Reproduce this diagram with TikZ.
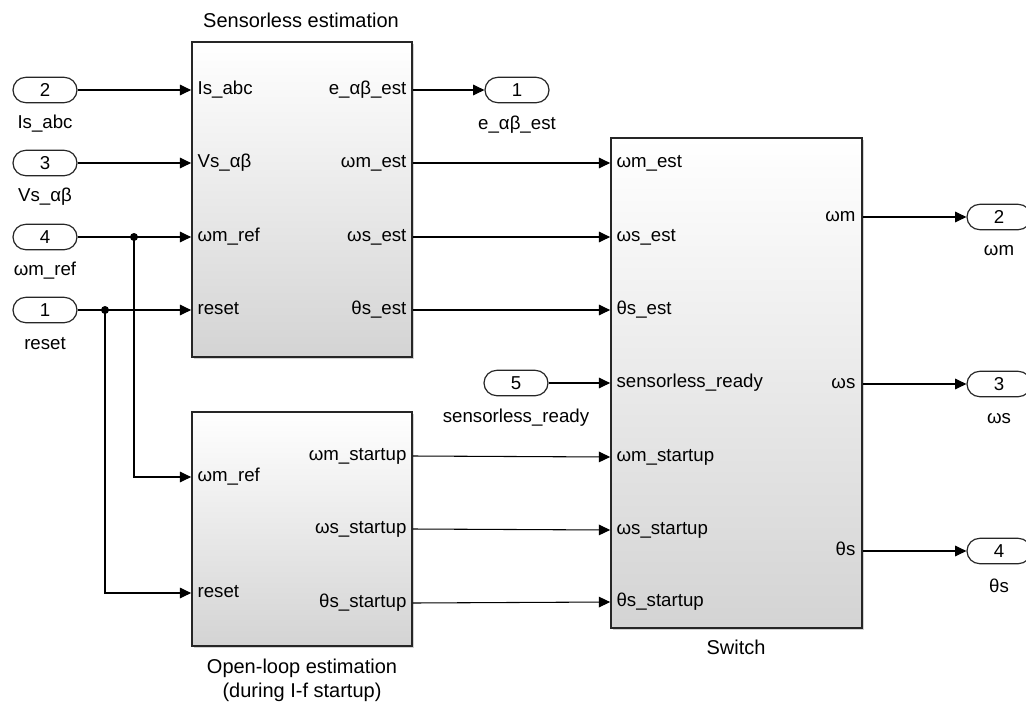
\documentclass[tikz,border=0pt]{standalone}
\usepackage{fontspec}
\setmainfont{Liberation Sans}
\usepackage{tikz}
\usetikzlibrary{arrows.meta, positioning, shapes.misc, shadows}

\begin{document}
\begin{tikzpicture}[
  x=0.75pt, y=-0.75pt,
  font=\fontsize{14}{16.5}\selectfont,
  >={Triangle[length=8.5pt, width=8pt]},
  block/.style={draw=black!85, line width=1.3pt, shading=axis, top color=white,
                middle color=black!4, bottom color=black!17,
                drop shadow={shadow xshift=1.5pt, shadow yshift=-1.5pt, fill=black!35},
                minimum width=#1, inner sep=0pt},
  port/.style={rounded rectangle, draw=black!85, line width=0.9pt, fill=white,
               minimum width=48pt, minimum height=19pt, inner sep=0pt},
  pin/.style={inner sep=1pt, text height=1.6ex, text depth=.35ex},
  title/.style={font=\fontsize{15}{18}\selectfont, align=center},
  wire/.style={line width=0.8pt},
  dot/.style={circle, fill=black, inner sep=0pt, minimum size=6pt},
]
  \useasboundingbox (0,0) rectangle (1026,704);

  % --- subsystem blocks --------------------------------------------
  \node[block=165pt, minimum height=236.25pt] (sens) at (302,199.5) {};
  \node[block=165pt, minimum height=175.5pt] (open) at (302,529) {};
  \node[block=188.25pt, minimum height=367.5pt] (sw) at (736.5,383) {};

  \node[title] (tsens) at (301,20) {Sensorless estimation};
  \node[title] (topen) at (302,680) {Open-loop estimation\\(during I-f startup)};
  \node[title] (tsw) at (736,647) {Switch};

  % --- port labels --------------------------------------------------
  \node[pin, anchor=west] (s-is) at (196,90) {Is\_abc};
  \node[pin, anchor=west] (s-vs) at (196,163) {Vs\_αβ};
  \node[pin, anchor=west] (s-wref) at (196,237) {ωm\_ref};
  \node[pin, anchor=west] (s-rst) at (196,310) {reset};
  \node[pin, anchor=east] (s-e) at (408,90) {e\_αβ\_est};
  \node[pin, anchor=east] (s-wm) at (408,163) {ωm\_est};
  \node[pin, anchor=east] (s-ws) at (408,237) {ωs\_est};
  \node[pin, anchor=east] (s-th) at (408,310) {θs\_est};

  \node[pin, anchor=west] (o-wref) at (196,477) {ωm\_ref};
  \node[pin, anchor=west] (o-rst) at (196,593) {reset};
  \node[pin, anchor=east] (o-wm) at (408,456) {ωm\_startup};
  \node[pin, anchor=east] (o-ws) at (408,529) {ωs\_startup};
  \node[pin, anchor=east] (o-th) at (408,603) {θs\_startup};

  \node[pin, anchor=west] (w-wm) at (615,163) {ωm\_est};
  \node[pin, anchor=west] (w-ws) at (615,237) {ωs\_est};
  \node[pin, anchor=west] (w-th) at (615,310) {θs\_est};
  \node[pin, anchor=west] (w-rdy) at (615,383) {sensorless\_ready};
  \node[pin, anchor=west] (w-wm2) at (615,457) {ωm\_startup};
  \node[pin, anchor=west] (w-ws2) at (615,530) {ωs\_startup};
  \node[pin, anchor=west] (w-th2) at (615,602) {θs\_startup};
  \node[pin, anchor=east] (w-om) at (857,217) {ωm};
  \node[pin, anchor=east] (w-os) at (857,384) {ωs};
  \node[pin, anchor=east] (w-ot) at (857,551) {θs};

  % --- inports and outports -----------------------------------------
  \node[port] (in2) at (45,90) {2};
  \node[port] (in3) at (45,163) {3};
  \node[port] (in4) at (45,237) {4};
  \node[port] (in1) at (45,310) {1};
  \node[port] (in5) at (516,383) {5};
  \node[port] (out1) at (517,90) {1};
  \node[port] (out2) at (999,217) {2};
  \node[port] (out3) at (999,384) {3};
  \node[port] (out4) at (999,551) {4};

  \node (l-in2) at (45,124) {Is\_abc};
  \node (l-in3) at (45,197) {Vs\_αβ};
  \node (l-in4) at (45,271) {ωm\_ref};
  \node (l-in1) at (45,344) {reset};
  \node (l-in5) at (516,418) {sensorless\_ready};
  \node (l-out1) at (517,125) {e\_αβ\_est};
  \node (l-out2) at (999,251) {ωm};
  \node (l-out3) at (999,419) {ωs};
  \node (l-out4) at (999,586) {θs};

  % --- signal lines -------------------------------------------------
  \draw[wire, ->] (in2.east) -- (sens.west |- s-is);
  \draw[wire, ->] (in3.east) -- (sens.west |- s-vs);
  \draw[wire, ->] (in4.east) -- (sens.west |- s-wref);
  \draw[wire, ->] (in1.east) -- (sens.west |- s-rst);

  \node[dot] (j-wref) at (134,237) {};
  \node[dot] (j-rst) at (105,310) {};
  \draw[wire, ->] (j-wref.center) |- (open.west |- o-wref);
  \draw[wire, ->] (j-rst.center) |- (open.west |- o-rst);

  \draw[wire, ->] (sens.east |- s-e) -- (out1.west);
  \draw[wire, ->] (sens.east |- s-wm) -- (sw.west |- w-wm);
  \draw[wire, ->] (sens.east |- s-ws) -- (sw.west |- w-ws);
  \draw[wire, ->] (sens.east |- s-th) -- (sw.west |- w-th);
  \draw[wire, ->] (in5.east) -- (sw.west |- w-rdy);
  \draw[wire, ->] (open.east |- o-wm) -- (sw.west |- w-wm2);
  \draw[wire, ->] (open.east |- o-ws) -- (sw.west |- w-ws2);
  \draw[wire, ->] (open.east |- o-th) -- (sw.west |- w-th2);

  \draw[wire, ->] (sw.east |- w-om) -- (out2.west);
  \draw[wire, ->] (sw.east |- w-os) -- (out3.west);
  \draw[wire, ->] (sw.east |- w-ot) -- (out4.west);
\end{tikzpicture}
\end{document}
